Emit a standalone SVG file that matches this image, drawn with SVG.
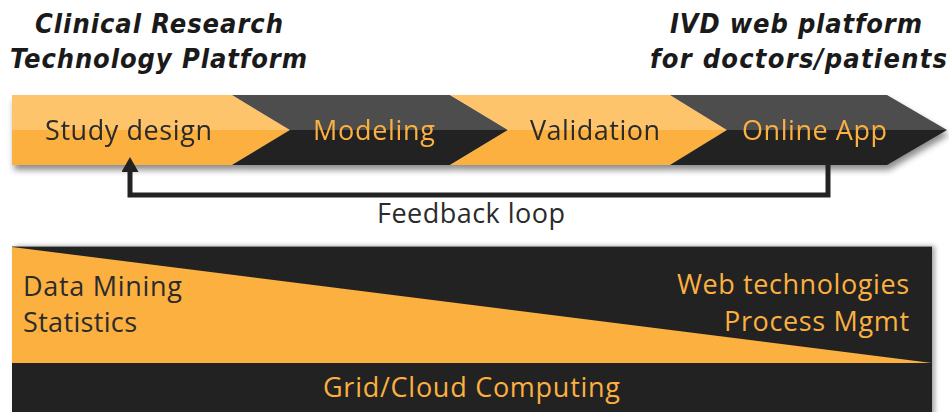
<svg xmlns="http://www.w3.org/2000/svg" width="949" height="412" viewBox="0 0 949 412">
<style>
.title{font-family:"DejaVu Sans Condensed","DejaVu Sans",sans-serif;font-weight:bold;font-style:italic;font-size:27px;fill:#1a1a1a}
.lbl{font-family:"Open Sans",sans-serif;font-size:27px}
.dk{fill:#2b2b2b}
.or{fill:#FBB040}
.oU{fill:#FEC46C}
.oL{fill:#FBB040}
.dU{fill:#4D4D4D}
.dL{fill:#222222}
</style>
<defs>
<filter id="sh" x="-5%" y="-20%" width="110%" height="160%">
<feDropShadow dx="2" dy="5" stdDeviation="3" flood-color="#000" flood-opacity="0.45"/>
</filter>
<filter id="sh2" x="-5%" y="-10%" width="110%" height="130%">
<feDropShadow dx="3" dy="0" stdDeviation="2.5" flood-color="#000" flood-opacity="0.35"/>
</filter>
<marker id="ah" markerUnits="userSpaceOnUse" markerWidth="15" markerHeight="17" viewBox="0 0 15 17" refX="0" refY="8.5" orient="auto">
<path d="M0,0 L15,8.5 L0,17 z" fill="#222"/>
</marker>
</defs>
<rect width="949" height="412" fill="#fff"/>

<g id="titles">
<text class="title" x="35" y="33" textLength="248">Clinical Research</text>
<text class="title" x="10" y="68" textLength="297">Technology Platform</text>
<text class="title" x="670" y="33" textLength="252">IVD web platform</text>
<text class="title" x="650" y="68" textLength="297">for doctors/patients</text>
</g>

<g id="pipeline" filter="url(#sh)">
<g id="study-design">
<polygon class="oU" points="12,95 232,95 290,130 12,130"/>
<polygon class="oL" points="12,130 290,130 232,165 12,165"/>
<text class="lbl dk" x="45" y="140" textLength="167">Study design</text>
</g>
<g id="modeling">
<polygon class="dU" points="232,95 450,95 508,130 290,130"/>
<polygon class="dL" points="290,130 508,130 450,165 232,165"/>
<text class="lbl or" x="313" y="140" textLength="122">Modeling</text>
</g>
<g id="validation">
<polygon class="oU" points="450,95 670,95 727,130 508,130"/>
<polygon class="oL" points="508,130 727,130 670,165 450,165"/>
<text class="lbl dk" x="530" y="140" textLength="130">Validation</text>
</g>
<g id="online-app">
<polygon class="dU" points="670,95 887,95 947,130 727,130"/>
<polygon class="dL" points="727,130 947,130 887,165 670,165"/>
<text class="lbl or" x="742" y="140" textLength="145">Online App</text>
</g>
</g>

<g id="connectors">
<path d="M828,165 V195 H130 V172" fill="none" stroke="#222" stroke-width="5" marker-end="url(#ah)"/>
<text class="lbl dk" x="377" y="223" textLength="188">Feedback loop</text>
</g>

<g id="panel" filter="url(#sh2)">
<rect x="12" y="246" width="920" height="170" fill="#222"/>
<line x1="12" y1="246.5" x2="932" y2="246.5" stroke="#888" stroke-width="1"/>
<polygon class="oL" points="12,247 932,363 12,363"/>
</g>
<g id="panel-labels">
<text class="lbl dk" x="23" y="296" textLength="159">Data Mining</text>
<text class="lbl dk" x="23" y="332" textLength="114">Statistics</text>
<text class="lbl or" x="677" y="294" textLength="232">Web technologies</text>
<text class="lbl or" x="724" y="331" textLength="185">Process Mgmt</text>
<text class="lbl or" x="323" y="397" textLength="297">Grid/Cloud Computing</text>
</g>
</svg>
